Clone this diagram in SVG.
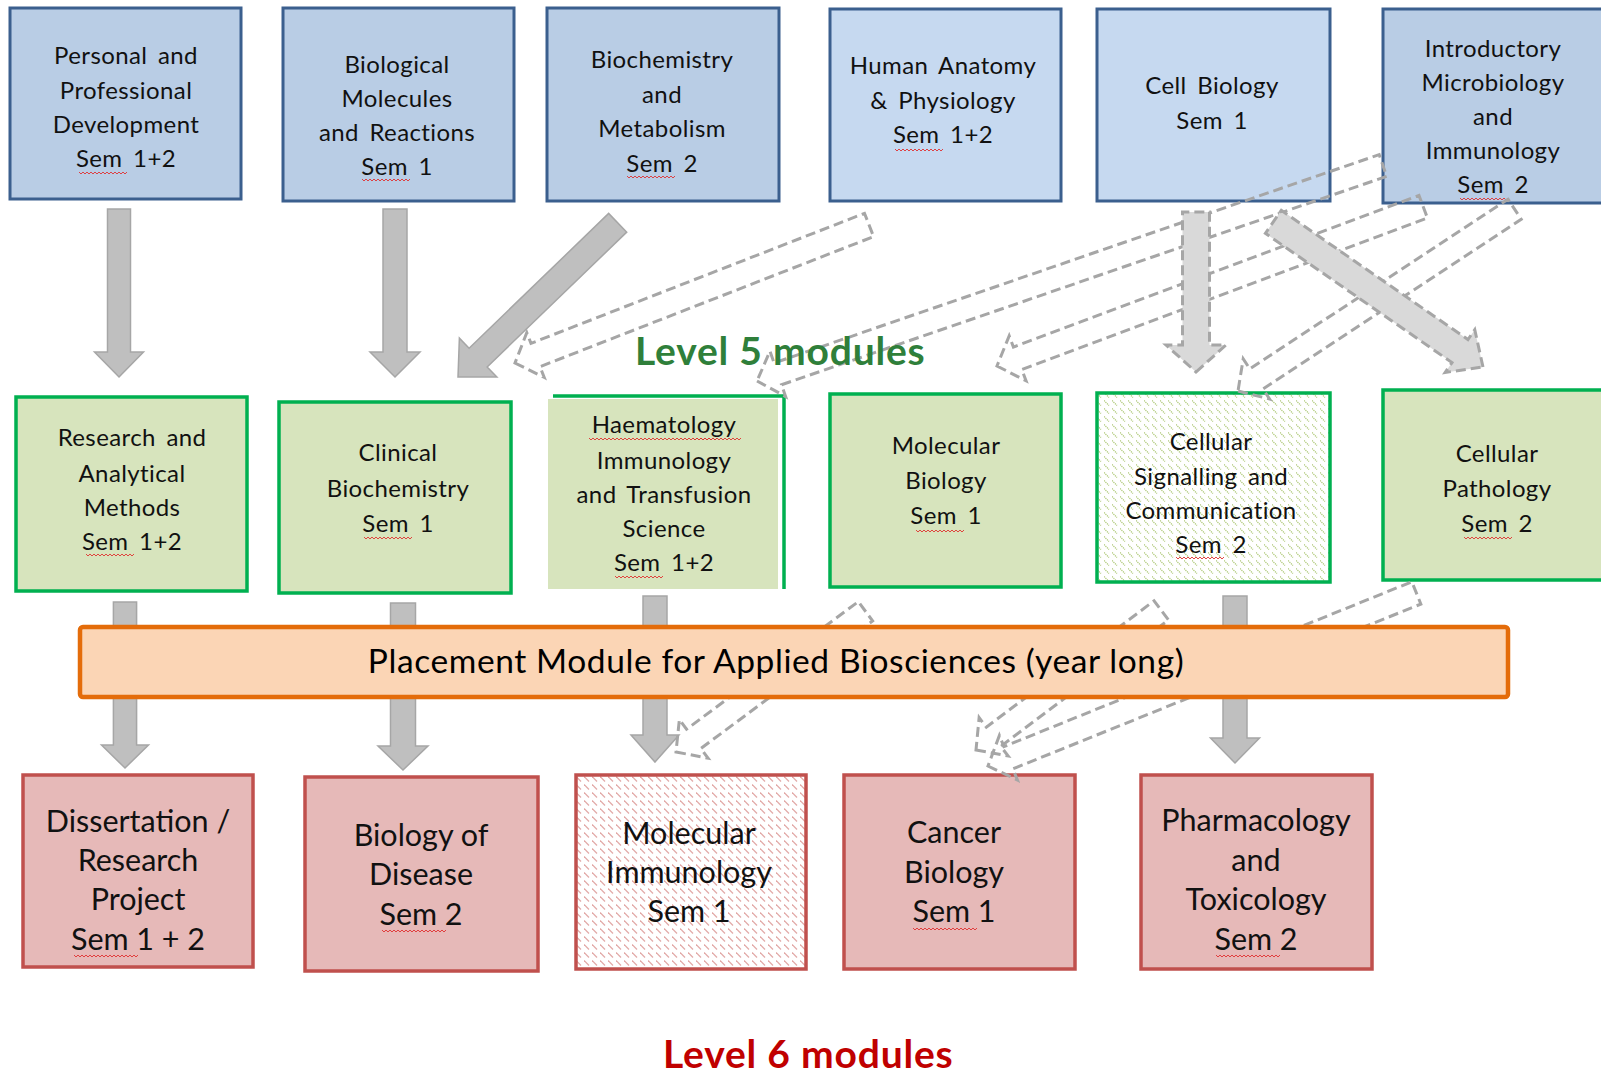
<svg xmlns="http://www.w3.org/2000/svg" width="1601" height="1073" viewBox="0 0 1601 1073">
<defs>
<style>
.blueA{fill:#b9cde5;stroke:#3b5f8e;stroke-width:3}
.blueB{fill:#c6d9f0;stroke:#3b5f8e;stroke-width:3}
.green{fill:#d7e4bd;stroke:#00b050;stroke-width:3.5}
.red{fill:#e6b9b8;stroke:#c0504d;stroke-width:3.5}
.tb{font-family:Lato,"Liberation Sans",sans-serif;font-size:24px;fill:#111;text-anchor:middle;letter-spacing:0.4px;word-spacing:4px}
.t6{font-family:Lato,"Liberation Sans",sans-serif;font-size:30.5px;fill:#111;text-anchor:middle}
.solid{fill:#bfbfbf;stroke:#a6a6a6;stroke-width:1.5}
.dash{fill:none;stroke:#a6a6a6;stroke-width:3;stroke-dasharray:10 5}
.dashfill{fill:#d9d9d9;stroke:#a6a6a6;stroke-width:3;stroke-dasharray:10 5}
.sq{fill:none;stroke:#e03030;stroke-width:0.9}
</style>
<pattern id="hatchG" width="8" height="8" patternUnits="userSpaceOnUse">
<rect width="8" height="8" fill="#ffffff"/>
<path d="M0,0.5 L5,5.5" stroke="#a9c56e" stroke-width="1.2" stroke-dasharray="1.2 0.9"/>
</pattern>
<pattern id="hatchR" width="8" height="8" patternUnits="userSpaceOnUse">
<rect width="8" height="8" fill="#ffffff"/>
<path d="M0,0.5 L5,5.5" stroke="#e2a8a6" stroke-width="1.2"/>
</pattern>
<path id="sq48" class="sq" d="M0,0 l2,2 l2,-2 l2,2 l2,-2 l2,2 l2,-2 l2,2 l2,-2 l2,2 l2,-2 l2,2 l2,-2 l2,2 l2,-2 l2,2 l2,-2 l2,2 l2,-2 l2,2 l2,-2 l2,2 l2,-2 l2,2 l2,-2"/>
<path id="sq64" class="sq" d="M0,0 l2,2 l2,-2 l2,2 l2,-2 l2,2 l2,-2 l2,2 l2,-2 l2,2 l2,-2 l2,2 l2,-2 l2,2 l2,-2 l2,2 l2,-2 l2,2 l2,-2 l2,2 l2,-2 l2,2 l2,-2 l2,2 l2,-2 l2,2 l2,-2 l2,2 l2,-2 l2,2 l2,-2 l2,2 l2,-2"/>
</defs>
<rect width="1601" height="1073" fill="#ffffff"/>

<!-- Year 1 (top) nodes -->
<g id="n-personal">
<rect class="blueA" x="10" y="8" width="231" height="191"/>
<text class="tb"><tspan x="126" y="64">Personal and</tspan><tspan x="126" y="99">Professional</tspan><tspan x="126" y="133">Development</tspan><tspan x="126" y="167">Sem 1+2</tspan></text>
<use href="#sq48" x="79" y="172"/>
</g>
<g id="n-biomolecules">
<rect class="blueA" x="283" y="8" width="231" height="193"/>
<text class="tb"><tspan x="397" y="73">Biological</tspan><tspan x="397" y="107">Molecules</tspan><tspan x="397" y="141">and Reactions</tspan><tspan x="397" y="175">Sem 1</tspan></text>
<use href="#sq48" x="362" y="179"/>
</g>
<g id="n-biochem">
<rect class="blueA" x="547" y="8" width="232" height="193"/>
<text class="tb"><tspan x="662" y="68">Biochemistry</tspan><tspan x="662" y="103">and</tspan><tspan x="662" y="137">Metabolism</tspan><tspan x="662" y="172">Sem 2</tspan></text>
<use href="#sq48" x="627" y="176"/>
</g>
<g id="n-anatomy">
<rect class="blueB" x="830" y="9" width="231" height="192"/>
<text class="tb"><tspan x="943" y="74">Human Anatomy</tspan><tspan x="943" y="109">&amp; Physiology</tspan><tspan x="943" y="143">Sem 1+2</tspan></text>
<use href="#sq48" x="895" y="149"/>
</g>
<g id="n-cellbio">
<rect class="blueB" x="1097" y="9" width="233" height="192"/>
<text class="tb"><tspan x="1212" y="94">Cell Biology</tspan><tspan x="1212" y="129">Sem 1</tspan></text>
</g>
<g id="n-micro">
<rect class="blueA" x="1383" y="9" width="240" height="194"/>
<text class="tb"><tspan x="1493" y="57">Introductory</tspan><tspan x="1493" y="91">Microbiology</tspan><tspan x="1493" y="125">and</tspan><tspan x="1493" y="159">Immunology</tspan><tspan x="1493" y="193">Sem 2</tspan></text>
<use href="#sq48" x="1460" y="198"/>
</g>

<!-- Level 5 nodes -->
<g id="n-research">
<rect class="green" x="16" y="397" width="231" height="194"/>
<text class="tb"><tspan x="132" y="446">Research and</tspan><tspan x="132" y="482">Analytical</tspan><tspan x="132" y="516">Methods</tspan><tspan x="132" y="550">Sem 1+2</tspan></text>
<use href="#sq48" x="86" y="554"/>
</g>
<g id="n-clinical">
<rect class="green" x="279" y="402" width="232" height="191"/>
<text class="tb"><tspan x="398" y="461">Clinical</tspan><tspan x="398" y="497">Biochemistry</tspan><tspan x="398" y="532">Sem 1</tspan></text>
<use href="#sq48" x="364" y="537"/>
</g>
<g id="n-haematology">
<rect x="548" y="399" width="230" height="190" fill="#d7e4bd"/>
<path d="M553,396 H784 V589" fill="none" stroke="#00b050" stroke-width="3.5"/>
<text class="tb"><tspan x="664" y="433">Haematology</tspan><tspan x="664" y="469">Immunology</tspan><tspan x="664" y="503">and Transfusion</tspan><tspan x="664" y="537">Science</tspan><tspan x="664" y="571">Sem 1+2</tspan></text>
<use href="#sq64" x="589" y="438"/>
<use href="#sq64" x="653" y="438"/>
<use href="#sq48" x="693" y="438"/>
<use href="#sq48" x="615" y="576"/>
</g>
<g id="n-molbio">
<rect class="green" x="830" y="394" width="231" height="193"/>
<text class="tb"><tspan x="946" y="454">Molecular</tspan><tspan x="946" y="489">Biology</tspan><tspan x="946" y="524">Sem 1</tspan></text>
<use href="#sq48" x="916" y="530"/>
</g>
<g id="n-signalling">
<rect x="1097" y="393" width="233" height="189" fill="url(#hatchG)" stroke="#00b050" stroke-width="3.5"/>
<text class="tb"><tspan x="1211" y="450">Cellular</tspan><tspan x="1211" y="485">Signalling and</tspan><tspan x="1211" y="519">Communication</tspan><tspan x="1211" y="553">Sem 2</tspan></text>
<use href="#sq48" x="1176" y="557"/>
</g>
<g id="n-pathology">
<rect class="green" x="1383" y="390" width="240" height="190"/>
<text class="tb"><tspan x="1497" y="462">Cellular</tspan><tspan x="1497" y="497">Pathology</tspan><tspan x="1497" y="532">Sem 2</tspan></text>
<use href="#sq48" x="1464" y="537"/>
</g>

<!-- Level 6 nodes -->
<g id="n-dissertation">
<rect class="red" x="23" y="775" width="230" height="192"/>
<text class="t6"><tspan x="138" y="832">Dissertation /</tspan><tspan x="138" y="871">Research</tspan><tspan x="138" y="910">Project</tspan><tspan x="138" y="950">Sem 1 + 2</tspan></text>
<use href="#sq64" x="74" y="955"/>
</g>
<g id="n-disease">
<rect class="red" x="305" y="777" width="233" height="194"/>
<text class="t6"><tspan x="421" y="846">Biology of</tspan><tspan x="421" y="885">Disease</tspan><tspan x="421" y="925">Sem 2</tspan></text>
<use href="#sq64" x="382" y="930"/>
</g>
<g id="n-molimm">
<rect x="576" y="775" width="230" height="194" fill="url(#hatchR)" stroke="#c0504d" stroke-width="3.5"/>
<text class="t6"><tspan x="689" y="844">Molecular</tspan><tspan x="689" y="883">Immunology</tspan><tspan x="689" y="922">Sem 1</tspan></text>
</g>
<g id="n-cancer">
<rect class="red" x="844" y="775" width="231" height="194"/>
<text class="t6"><tspan x="954" y="843">Cancer</tspan><tspan x="954" y="883">Biology</tspan><tspan x="954" y="922">Sem 1</tspan></text>
<use href="#sq64" x="913" y="928"/>
</g>
<g id="n-pharma">
<rect class="red" x="1141" y="775" width="231" height="194"/>
<text class="t6"><tspan x="1256" y="831">Pharmacology</tspan><tspan x="1256" y="871">and</tspan><tspan x="1256" y="910">Toxicology</tspan><tspan x="1256" y="950">Sem 2</tspan></text>
<use href="#sq64" x="1216" y="955"/>
</g>

<!-- Connectors -->
<g id="connectors">
<polygon class="solid" points="0,0 -25,-24.5 -25,-11.5 -168,-11.5 -168,11.5 -25,11.5 -25,24.5" transform="translate(119,377) rotate(90)"/>
<polygon class="solid" points="0,0 -25,-25 -25,-12 -168,-12 -168,12 -25,12 -25,25" transform="translate(395,377) rotate(90)"/>
<polygon class="solid" points="0,0 -28,-27 -28,-13 -222,-13 -222,13 -28,13 -28,27" transform="translate(458,377) rotate(136)"/>
<polygon class="dash" points="0,0 -22,-24 -22,-12.5 -380,-12.5 -380,12.5 -22,12.5 -22,24" transform="translate(515,363) rotate(158.7)"/>
<polygon class="dash" points="0,0 -22,-24 -22,-11.5 -662,-11.5 -662,11.5 -22,11.5 -22,24" transform="translate(757,381) rotate(161)"/>
<polygon class="dash" points="0,0 -22,-24 -22,-12 -455,-12 -455,12 -22,12 -22,24" transform="translate(997,366) rotate(159.5)"/>
<polygon class="dash" points="0,0 -22,-24 -22,-12 -331,-12 -331,12 -22,12 -22,24" transform="translate(1238,391) rotate(146.7)"/>
<polygon class="dashfill" points="0,0 -27,-30 -27,-13.5 -160,-13.5 -160,13.5 -27,13.5 -27,30" transform="translate(1196,372) rotate(90)"/>
<polygon class="dashfill" points="0,0 -28,-26 -28,-14 -255,-14 -255,14 -28,14 -28,26" transform="translate(1483,367) rotate(34.7)"/>
<polygon class="solid" points="0,0 -23,-23.5 -23,-11.6 -166,-11.6 -166,11.6 -23,11.6 -23,23.5" transform="translate(125,768) rotate(90)"/>
<polygon class="solid" points="0,0 -24,-25 -24,-12.5 -167,-12.5 -167,12.5 -24,12.5 -24,25" transform="translate(403,770) rotate(90)"/>
<polygon class="solid" points="0,0 -27,-24 -27,-12 -166,-12 -166,12 -27,12 -27,24" transform="translate(655,762) rotate(90)"/>
<polygon class="solid" points="0,0 -25,-24.5 -25,-12 -167,-12 -167,12 -25,12 -25,24.5" transform="translate(1235,763) rotate(90)"/>
<polygon class="dash" points="0,0 -22,-24 -22,-12 -236,-12 -236,12 -22,12 -22,24" transform="translate(676,752) rotate(143.4)"/>
<polygon class="dash" points="0,0 -22,-24 -22,-12 -232,-12 -232,12 -22,12 -22,24" transform="translate(976,750) rotate(143)"/>
<polygon class="dash" points="0,0 -22,-24 -22,-12 -462,-12 -462,12 -22,12 -22,24" transform="translate(988,766) rotate(158)"/>
</g>

<!-- Placement bar -->
<g id="n-placement">
<rect x="80" y="627" width="1428" height="70" rx="3" fill="#fbd5b5" stroke="#e46c0a" stroke-width="4.5"/>
<text x="776" y="673" font-family="Lato, 'Liberation Sans', sans-serif" font-size="33.5" letter-spacing="0.6" fill="#000" text-anchor="middle">Placement Module for Applied Biosciences (year long)</text>
</g>

<!-- Level labels -->
<g id="labels">
<text x="635" y="365" font-family="Lato, 'Liberation Sans', sans-serif" font-size="39" letter-spacing="0.8" font-weight="bold" fill="#2f7f3a">Level 5 modules</text>
<text x="663" y="1068" font-family="Lato, 'Liberation Sans', sans-serif" font-size="39" letter-spacing="0.8" font-weight="bold" fill="#c00000">Level 6 modules</text>
</g>
</svg>
